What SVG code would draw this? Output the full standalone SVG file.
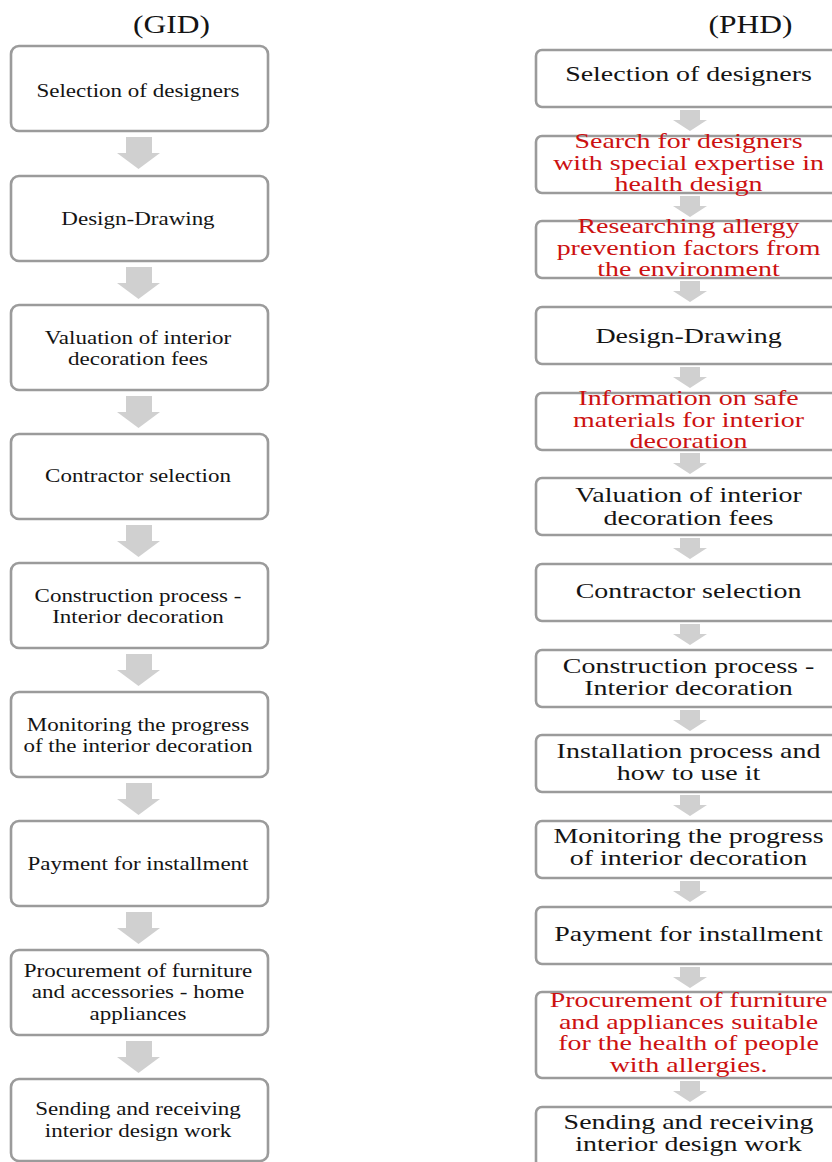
<svg xmlns="http://www.w3.org/2000/svg" width="832" height="1162" viewBox="0 0 832 1162">
<style>
.box{fill:#fff;stroke:#9b9b9b;stroke-width:2.6}
.arr{fill:#d0d0d0}
.t{font-family:"Liberation Serif","Times New Roman",serif;fill:#141414;text-anchor:middle}
.tl{font-size:19.5px}
.tr{font-size:21.5px}
.red{fill:#cc1111}
.hd{font-size:25px}
</style>
<rect width="832" height="1162" fill="#fff"/>
<g id="headings">
<text class="t hd" transform="translate(171.5,33) scale(1.26,1)" x="0" y="0">(GID)</text>
<text class="t hd" transform="translate(750.5,33) scale(1.26,1)" x="0" y="0">(PHD)</text>
</g>
<g id="connectors">
<path class="arr" d="M126,137H152V153H160L138.5,169L117,153H126Z"/>
<path class="arr" d="M126,267H152V283H160L138.5,299L117,283H126Z"/>
<path class="arr" d="M126,396H152V412H160L138.5,428L117,412H126Z"/>
<path class="arr" d="M126,525H152V541H160L138.5,557L117,541H126Z"/>
<path class="arr" d="M126,654H152V670H160L138.5,686L117,670H126Z"/>
<path class="arr" d="M126,783H152V799H160L138.5,815L117,799H126Z"/>
<path class="arr" d="M126,912H152V928H160L138.5,944L117,928H126Z"/>
<path class="arr" d="M126,1041H152V1057H160L138.5,1073L117,1057H126Z"/>
<path class="arr" d="M680,110H700V120H707L690,131L673,120H680Z"/>
<path class="arr" d="M680,196H700V206H707L690,217L673,206H680Z"/>
<path class="arr" d="M680,281H700V291H707L690,302L673,291H680Z"/>
<path class="arr" d="M680,367H700V377H707L690,388L673,377H680Z"/>
<path class="arr" d="M680,453H700V463H707L690,474L673,463H680Z"/>
<path class="arr" d="M680,538H700V548H707L690,559L673,548H680Z"/>
<path class="arr" d="M680,624H700V634H707L690,645L673,634H680Z"/>
<path class="arr" d="M680,710H700V720H707L690,731L673,720H680Z"/>
<path class="arr" d="M680,795H700V805H707L690,816L673,805H680Z"/>
<path class="arr" d="M680,881H700V891H707L690,902L673,891H680Z"/>
<path class="arr" d="M680,967H700V977H707L690,988L673,977H680Z"/>
<path class="arr" d="M680,1081H700V1091H707L690,1102L673,1091H680Z"/>
</g>
<g id="gid-1"><rect class="box" x="11" y="46" width="257" height="85" rx="8"/>
<text class="t tl" transform="translate(138,0) scale(1.18,1)"><tspan x="0" y="97">Selection of designers</tspan></text></g>
<g id="gid-2"><rect class="box" x="11" y="176" width="257" height="85" rx="8"/>
<text class="t tl" transform="translate(138,0) scale(1.18,1)"><tspan x="0" y="225">Design-Drawing</tspan></text></g>
<g id="gid-3"><rect class="box" x="11" y="305" width="257" height="85" rx="8"/>
<text class="t tl" transform="translate(138,0) scale(1.18,1)"><tspan x="0" y="344">Valuation of interior</tspan><tspan x="0" y="365">decoration fees</tspan></text></g>
<g id="gid-4"><rect class="box" x="11" y="434" width="257" height="85" rx="8"/>
<text class="t tl" transform="translate(138,0) scale(1.18,1)"><tspan x="0" y="482">Contractor selection</tspan></text></g>
<g id="gid-5"><rect class="box" x="11" y="563" width="257" height="85" rx="8"/>
<text class="t tl" transform="translate(138,0) scale(1.18,1)"><tspan x="0" y="602">Construction process -</tspan><tspan x="0" y="623">Interior  decoration</tspan></text></g>
<g id="gid-6"><rect class="box" x="11" y="692" width="257" height="85" rx="8"/>
<text class="t tl" transform="translate(138,0) scale(1.18,1)"><tspan x="0" y="731">Monitoring  the progress</tspan><tspan x="0" y="752">of the interior decoration</tspan></text></g>
<g id="gid-7"><rect class="box" x="11" y="821" width="257" height="85" rx="8"/>
<text class="t tl" transform="translate(138,0) scale(1.18,1)"><tspan x="0" y="870">Payment for installment</tspan></text></g>
<g id="gid-8"><rect class="box" x="11" y="950" width="257" height="85" rx="8"/>
<text class="t tl" transform="translate(138,0) scale(1.18,1)"><tspan x="0" y="977">Procurement of furniture</tspan><tspan x="0" y="998">and accessories - home</tspan><tspan x="0" y="1020">appliances</tspan></text></g>
<g id="gid-9"><rect class="box" x="11" y="1079" width="257" height="82" rx="8"/>
<text class="t tl" transform="translate(138,0) scale(1.18,1)"><tspan x="0" y="1115">Sending  and receiving</tspan><tspan x="0" y="1137">interior design work</tspan></text></g>

<g id="phd-1"><rect class="box" x="536" y="50" width="310" height="57" rx="6"/>
<text class="t tr" transform="translate(688.5,0) scale(1.3,1)"><tspan x="0" y="81">Selection of designers</tspan></text></g>
<g id="phd-2"><rect class="box" x="536" y="136" width="310" height="57" rx="6"/>
<text class="t tr red" transform="translate(688.5,0) scale(1.3,1)"><tspan x="0" y="148">Search for designers</tspan><tspan x="0" y="170">with special expertise in</tspan><tspan x="0" y="191">health design</tspan></text></g>
<g id="phd-3"><rect class="box" x="536" y="221" width="310" height="57" rx="6"/>
<text class="t tr red" transform="translate(688.5,0) scale(1.3,1)"><tspan x="0" y="233">Researching  allergy</tspan><tspan x="0" y="255">prevention  factors from</tspan><tspan x="0" y="276">the environment</tspan></text></g>
<g id="phd-4"><rect class="box" x="536" y="307" width="310" height="57" rx="6"/>
<text class="t tr" transform="translate(688.5,0) scale(1.3,1)"><tspan x="0" y="343">Design-Drawing</tspan></text></g>
<g id="phd-5"><rect class="box" x="536" y="393" width="310" height="57" rx="6"/>
<text class="t tr red" transform="translate(688.5,0) scale(1.3,1)"><tspan x="0" y="405">Information  on safe</tspan><tspan x="0" y="427">materials for interior</tspan><tspan x="0" y="448">decoration</tspan></text></g>
<g id="phd-6"><rect class="box" x="536" y="478" width="310" height="57" rx="6"/>
<text class="t tr" transform="translate(688.5,0) scale(1.3,1)"><tspan x="0" y="502">Valuation of interior</tspan><tspan x="0" y="525">decoration fees</tspan></text></g>
<g id="phd-7"><rect class="box" x="536" y="564" width="310" height="57" rx="6"/>
<text class="t tr" transform="translate(688.5,0) scale(1.3,1)"><tspan x="0" y="598">Contractor selection</tspan></text></g>
<g id="phd-8"><rect class="box" x="536" y="650" width="310" height="57" rx="6"/>
<text class="t tr" transform="translate(688.5,0) scale(1.3,1)"><tspan x="0" y="673">Construction process -</tspan><tspan x="0" y="695">Interior  decoration</tspan></text></g>
<g id="phd-9"><rect class="box" x="536" y="735" width="310" height="57" rx="6"/>
<text class="t tr" transform="translate(688.5,0) scale(1.3,1)"><tspan x="0" y="758">Installation  process and</tspan><tspan x="0" y="780">how to use it</tspan></text></g>
<g id="phd-10"><rect class="box" x="536" y="821" width="310" height="57" rx="6"/>
<text class="t tr" transform="translate(688.5,0) scale(1.3,1)"><tspan x="0" y="843">Monitoring  the progress</tspan><tspan x="0" y="865">of interior  decoration</tspan></text></g>
<g id="phd-11"><rect class="box" x="536" y="907" width="310" height="57" rx="6"/>
<text class="t tr" transform="translate(688.5,0) scale(1.3,1)"><tspan x="0" y="941">Payment  for installment</tspan></text></g>
<g id="phd-12"><rect class="box" x="536" y="992" width="310" height="86" rx="6"/>
<text class="t tr red" transform="translate(688.5,0) scale(1.3,1)"><tspan x="0" y="1007">Procurement of furniture</tspan><tspan x="0" y="1029">and appliances suitable</tspan><tspan x="0" y="1050">for the health of people</tspan><tspan x="0" y="1072">with allergies.</tspan></text></g>
<g id="phd-13"><rect class="box" x="536" y="1107" width="310" height="60" rx="6"/>
<text class="t tr" transform="translate(688.5,0) scale(1.3,1)"><tspan x="0" y="1129">Sending  and receiving</tspan><tspan x="0" y="1151">interior design work</tspan></text></g>
</svg>
